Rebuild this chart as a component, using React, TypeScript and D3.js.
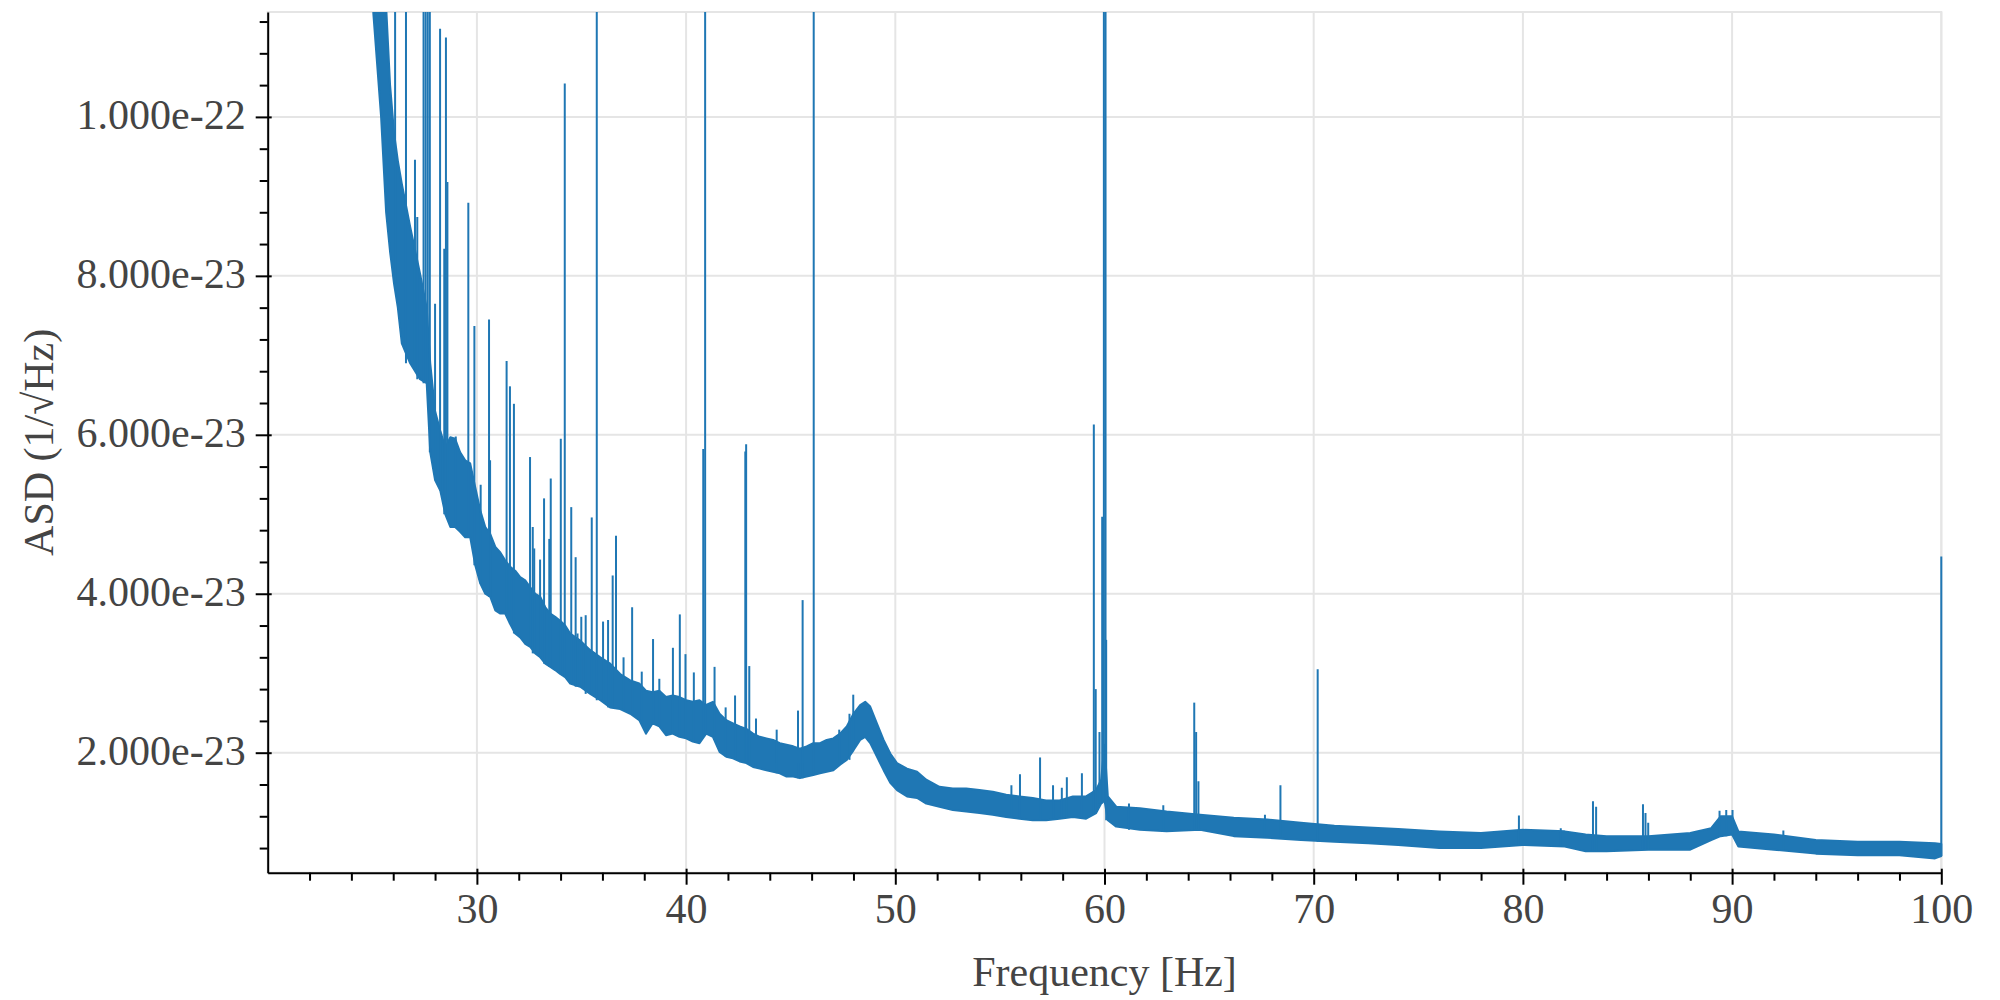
import React, { useRef, useEffect } from 'react';
import * as d3 from 'd3';

// Noise band of the spectrum: frequency [Hz], lower and upper edge in units of 1e-23
const bandFreq = [
  24.9, 25.05, 25.42, 25.66, 25.85, 26.04, 26.22, 26.41, 26.81, 27.28, 27.6, 27.77, 28.0,
  28.25, 28.49, 28.73, 28.96, 29.2, 29.44, 29.68, 29.92, 30.16, 30.4, 30.64, 30.88, 31.12,
  31.35, 31.59, 31.83, 32.07, 32.31, 32.55, 32.79, 33.03, 33.27, 33.51, 33.74, 33.98, 34.22,
  34.46, 34.94, 35.42, 35.9, 36.37, 36.85, 37.33, 37.76, 38.08, 38.4, 38.72, 39.04, 39.36,
  39.68, 40.0, 40.32, 40.64, 40.96, 41.28, 41.6, 41.92, 42.24, 42.56, 42.88, 43.2, 43.52,
  43.84, 44.16, 44.48, 44.8, 45.12, 45.44, 45.76, 46.08, 46.4, 46.72, 47.04, 47.36, 47.68,
  48.0, 48.32, 48.56, 48.8, 49.12, 49.44, 49.76, 50.08, 50.56, 51.04, 51.48, 52.11, 52.75,
  53.39, 54.02, 54.66, 55.3, 55.94, 56.57, 57.21, 57.85, 58.49, 59.12, 59.6, 59.84, 60.0,
  60.16, 60.56, 61.69, 62.97, 64.57, 66.18, 67.78, 69.39, 70.99, 72.6, 74.04, 76, 78,
  80, 82, 83, 84, 86, 88, 89, 89.45, 90.0, 90.3, 92, 94, 96, 98, 99.7, 100,
];
const bandLow = [
  13, 11.3, 10.0, 8.8, 8.3, 7.9, 7.6, 7.15, 6.9, 6.7, 6.65, 5.78, 5.43,
  5.3, 5.0, 4.84, 4.84, 4.78, 4.71, 4.71, 4.36, 4.13, 4.0, 3.96, 3.79, 3.75,
  3.75, 3.62, 3.5, 3.45, 3.37, 3.33, 3.25, 3.2, 3.12, 3.08, 3.04, 2.99, 2.95,
  2.87, 2.83, 2.74, 2.66, 2.57, 2.55, 2.49, 2.41, 2.24, 2.37, 2.33, 2.22, 2.24,
  2.2, 2.18, 2.14, 2.12, 2.24, 2.2, 2.01, 1.95, 1.93, 1.89, 1.87, 1.82, 1.8,
  1.78, 1.76, 1.74, 1.7, 1.7, 1.68, 1.7, 1.72, 1.74, 1.76, 1.78, 1.85, 1.91,
  2.03, 2.16, 2.2, 2.12, 1.95, 1.78, 1.62, 1.53, 1.45, 1.43, 1.36, 1.32, 1.28,
  1.26, 1.24, 1.22, 1.19, 1.17, 1.15, 1.15, 1.17, 1.19, 1.17, 1.24, 1.36, 1.4,
  1.15, 1.07, 1.03, 1.01, 1.03, 0.95, 0.93, 0.9, 0.88, 0.86, 0.84, 0.8, 0.8,
  0.84, 0.82, 0.76, 0.76, 0.78, 0.78, 0.9, 0.95, 0.97, 0.82, 0.78, 0.73, 0.71, 0.71, 0.67, 0.7,
];
const bandHigh = [
  13, 12.5, 12.0, 11.4, 10.4, 9.8, 9.45, 9.16, 8.62, 8.03, 7.6, 6.9, 6.3,
  6.05, 5.84, 5.97, 5.95, 5.78, 5.68, 5.64, 5.34, 5.05, 4.84, 4.75, 4.59, 4.52,
  4.42, 4.34, 4.29, 4.21, 4.17, 4.08, 4.0, 3.96, 3.83, 3.75, 3.71, 3.66, 3.6,
  3.5, 3.41, 3.29, 3.2, 3.12, 2.99, 2.91, 2.87, 2.78, 2.76, 2.78, 2.7, 2.72,
  2.7, 2.66, 2.64, 2.66, 2.6, 2.64, 2.49, 2.41, 2.37, 2.33, 2.3, 2.24, 2.2,
  2.18, 2.16, 2.12, 2.1, 2.08, 2.05, 2.08, 2.12, 2.12, 2.16, 2.18, 2.24, 2.33,
  2.49, 2.6, 2.64, 2.58, 2.37, 2.16, 1.99, 1.87, 1.8, 1.76, 1.66, 1.57, 1.55,
  1.55, 1.53, 1.51, 1.47, 1.45, 1.43, 1.4, 1.4, 1.45, 1.45, 1.53, 1.66, 2.1,
  1.45, 1.32, 1.3, 1.26, 1.22, 1.18, 1.16, 1.12, 1.08, 1.06, 1.04, 1.01, 0.99,
  1.03, 1.01, 0.97, 0.95, 0.95, 0.99, 1.05, 1.2, 1.2, 1.01, 0.97, 0.9, 0.88, 0.88, 0.86, 0.85,
];

// Narrow lines: frequency [Hz] and peak (1e-23); peaks above the frame are cut off
const lineFreq = [
  26.09, 26.61, 27.04, 27.15, 27.45, 27.55, 27.65, 27.75, 28.0, 28.24, 28.44, 28.52, 28.59,
  28.99, 29.59, 29.88, 30.18, 30.58, 30.63, 31.42, 31.58, 31.77, 32.54, 32.67, 32.74, 33.02,
  33.21, 33.46, 33.53, 34.01, 34.2, 34.51, 34.72, 34.81, 34.99, 35.2, 35.49, 35.73, 36.03,
  36.27, 36.49, 36.65, 37.01, 37.42, 37.88, 38.42, 38.72, 39.37, 39.7, 39.97, 40.37, 40.82,
  40.91, 41.36, 41.89, 42.34, 42.83, 42.87, 43.02, 43.34, 44.33, 45.35, 45.57, 46.1, 47.32,
  47.81, 47.99, 55.55, 55.96, 56.92, 57.54, 57.96, 58.2, 58.92, 59.49, 59.58, 59.76, 59.89,
  59.97, 60.05, 60.08, 61.17, 62.81, 64.29, 64.38, 64.49, 67.67, 68.41, 70.19, 79.81, 81.81,
  83.35, 83.5, 85.74, 85.86, 85.99, 89.4, 89.72, 90.02, 92.45, 100.0,
];
const linePeak = [
  12, 12, 9.46, 8.74, 12, 12, 12, 12, 7.65, 11.11, 8.34, 11.0, 9.18,
  5.98, 8.92, 7.37, 5.37, 7.45, 5.68, 6.93, 6.61, 6.39, 5.72, 4.84, 4.57, 4.43,
  5.2, 4.69, 5.45, 5.95, 10.42, 5.09, 4.46, 3.5, 3.71, 3.73, 4.96, 12, 3.65,
  3.67, 4.23, 4.73, 3.2, 3.83, 3.02, 3.43, 2.93, 3.32, 3.74, 3.24, 3.01, 5.82,
  12, 3.08, 2.57, 2.72, 5.79, 5.88, 3.09, 2.43, 2.29, 2.53, 3.92, 12, 2.29,
  2.49, 2.73, 1.59, 1.73, 1.94, 1.59, 1.56, 1.69, 1.74, 6.13, 2.8, 2.26, 4.97,
  12, 12, 3.42, 1.36, 1.34, 2.63, 2.26, 1.64, 1.22, 1.59, 3.05, 1.21, 1.05,
  1.39, 1.32, 1.35, 1.24, 1.12, 1.27, 1.28, 1.28, 1.02, 4.47,
];

const xTicks = [30, 40, 50, 60, 70, 80, 90, 100];
const xTickLabels = ['30', '40', '50', '60', '70', '80', '90', '100'];
const yTicks = [2, 4, 6, 8, 10];
const yTickLabels = ['2.000e-23', '4.000e-23', '6.000e-23', '8.000e-23', '1.000e-22'];

const W = 2000;
const H = 1000;
const M = { left: 267.7, right: 1941.3, top: 12, bottom: 872.7 };
const BLUE = '#1f77b4';
const TEXT = '#444444';
const FONT = "'Liberation Serif', 'Times New Roman', serif";

export default function App() {
  const svgRef = useRef<SVGSVGElement>(null);

  useEffect(() => {
    if (!svgRef.current) return;
    const svg = d3.select(svgRef.current);
    svg.selectAll('*').remove();

    const x = d3.scaleLinear().domain([20, 100]).range([M.left, M.right]);
    const y = d3.scaleLinear().domain([0.49, 11.32]).range([M.bottom, M.top]);

    svg.append('rect').attr('width', W).attr('height', H).attr('fill', '#fff');

    // grid
    const grid = svg.append('g').attr('stroke', '#e5e5e5').attr('stroke-width', 2);
    grid.selectAll('.gx').data(xTicks).enter().append('line')
      .attr('x1', d => x(d)).attr('x2', d => x(d))
      .attr('y1', M.top).attr('y2', M.bottom);
    grid.selectAll('.gy').data(yTicks).enter().append('line')
      .attr('x1', M.left).attr('x2', M.right)
      .attr('y1', d => y(d)).attr('y2', d => y(d));
    svg.append('rect')
      .attr('x', M.left).attr('y', M.top)
      .attr('width', M.right - M.left).attr('height', M.bottom - M.top)
      .attr('fill', 'none').attr('stroke', '#e5e5e5').attr('stroke-width', 2);

    // data, clipped to the frame
    svg.append('clipPath').attr('id', 'plot-clip')
      .append('rect')
      .attr('x', M.left).attr('y', M.top)
      .attr('width', M.right - M.left + 2).attr('height', M.bottom - M.top);
    const plot = svg.append('g').attr('clip-path', 'url(#plot-clip)');

    const idx = d3.range(bandFreq.length);
    const area = d3.area<number>()
      .x(i => x(bandFreq[i]))
      .y0(i => y(bandLow[i]))
      .y1(i => y(bandHigh[i]));
    plot.append('path')
      .attr('d', area(idx))
      .attr('fill', BLUE)
      .attr('stroke', BLUE)
      .attr('stroke-width', 2)
      .attr('stroke-linejoin', 'round');

    plot.selectAll('.peak').data(d3.range(lineFreq.length)).enter().append('line')
      .attr('x1', i => x(lineFreq[i])).attr('x2', i => x(lineFreq[i]))
      .attr('y1', i => y(bandLow[d3.bisectCenter(bandFreq, lineFreq[i])]))
      .attr('y2', i => y(linePeak[i]))
      .attr('stroke', BLUE)
      .attr('stroke-width', 2);

    // x axis
    const xAxis = svg.append('g').attr('transform', `translate(0,${M.bottom})`)
      .call(d3.axisBottom(x).tickValues(xTicks)
        .tickFormat((_, i) => xTickLabels[i])
        .tickSizeInner(12).tickSizeOuter(0).tickPadding(8));
    xAxis.selectAll('.tick line').attr('y1', -4).attr('stroke-width', 2);
    svg.append('g').attr('transform', `translate(0,${M.bottom})`)
      .call(d3.axisBottom(x)
        .tickValues(d3.range(22, 100, 2).filter(v => v % 10 !== 0))
        .tickFormat(() => '').tickSize(8))
      .call(g => g.select('.domain').remove())
      .selectAll('.tick line').attr('stroke-width', 2);

    // y axis
    const yAxis = svg.append('g').attr('transform', `translate(${M.left},0)`)
      .call(d3.axisLeft(y).tickValues(yTicks)
        .tickFormat((_, i) => yTickLabels[i])
        .tickSizeInner(12).tickSizeOuter(0).tickPadding(10));
    yAxis.selectAll('.tick line').attr('x1', 4).attr('stroke-width', 2);
    yAxis.selectAll('.tick text').attr('dy', '0.28em');
    svg.append('g').attr('transform', `translate(${M.left},0)`)
      .call(d3.axisLeft(y)
        .tickValues(d3.range(0.8, 11.3, 0.4).filter(v => Math.abs(v / 2 - Math.round(v / 2)) > 0.01))
        .tickFormat(() => '').tickSize(8))
      .call(g => g.select('.domain').remove())
      .selectAll('.tick line').attr('stroke-width', 2);

    [xAxis, yAxis].forEach(g => {
      g.attr('font-family', FONT).attr('font-size', 42);
      g.select('.domain').attr('stroke', '#000').attr('stroke-width', 2);
      g.selectAll('.tick text')
        .attr('font-family', FONT).attr('font-size', 42).attr('fill', TEXT);
    });

    // axis titles
    svg.append('text')
      .attr('x', (M.left + M.right) / 2).attr('y', 986)
      .attr('text-anchor', 'middle')
      .attr('font-family', FONT).attr('font-size', 42).attr('fill', TEXT)
      .text('Frequency [Hz]');
    svg.append('text')
      .attr('transform', `translate(53,${(M.top + M.bottom) / 2}) rotate(-90)`)
      .attr('text-anchor', 'middle')
      .attr('font-family', FONT).attr('font-size', 42).attr('fill', TEXT)
      .text('ASD (1/√Hz)');
  }, []);

  return (
    <svg
      ref={svgRef}
      width={W}
      height={H}
      style={{ position: 'absolute', left: 0, top: 0, display: 'block' }}
    />
  );
}
